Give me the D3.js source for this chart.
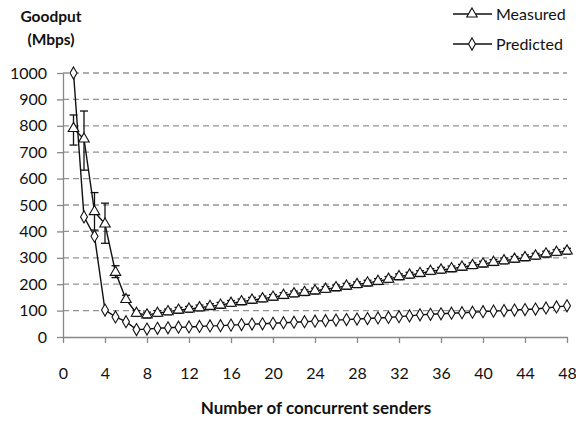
<!DOCTYPE html>
<html>
<head>
<meta charset="utf-8">
<script src="https://cdn.jsdelivr.net/npm/d3@7"></script>
<style>
  body { margin: 0; background: #fff; }
  text { font-family: Lato, "Open Sans", sans-serif; fill: #111; }
</style>
</head>
<body>
<div id="chart"></div>
<script>
var svgWidth = 576;
var svgHeight = 424;

// senders 1..48
var senders = d3.range(1, 49);

var measured = [790, 750, 475, 428, 245, 142, 90, 84, 90, 96, 102, 106, 111, 116, 121, 128,
  134, 140, 145, 151, 158, 164, 169, 175, 181, 187, 193, 199, 205, 211, 219, 229,
  235, 241, 249, 254, 259, 265, 271, 277, 283, 289, 295, 301, 307, 315, 321, 326];

var measuredHi = [841, 856, 547, 507, 270, 158, 100, 94, 100, 106, 112, 116, 121, 126, 131, 138,
  144, 150, 155, 161, 168, 174, 179, 185, 191, 197, 203, 209, 215, 221, 229, 239,
  245, 251, 259, 264, 269, 275, 281, 287, 293, 299, 305, 311, 317, 325, 331, 336];

var measuredLo = [727, 632, 405, 355, 225, 132, 78, 72, 78, 84, 90, 94, 99, 104, 109, 116,
  122, 128, 133, 139, 146, 152, 157, 163, 169, 175, 181, 187, 193, 199, 207, 217,
  223, 229, 237, 242, 247, 253, 259, 265, 271, 277, 283, 289, 295, 303, 309, 314];

var predicted = [1000, 455, 382, 102, 76, 58, 28, 30, 33, 35, 37, 38, 40, 42, 43, 45,
  47, 49, 50, 52, 54, 56, 58, 60, 62, 64, 66, 68, 70, 72, 74, 77,
  80, 84, 86, 88, 90, 92, 94, 96, 98, 100, 102, 104, 106, 110, 114, 118];

var xTicks = d3.range(0, 49, 4);
var yTicks = d3.range(0, 1001, 100);

var svg = d3.select("#chart")
  .append("svg")
  .attr("width", svgWidth)
  .attr("height", svgHeight);

var x = d3.scaleLinear().domain([0, 48]).range([63, 567]);
var y = d3.scaleLinear().domain([0, 1000]).range([337, 73]);

// gridlines
svg.append("g")
  .selectAll("line")
  .data(yTicks.filter(d => d > 0))
  .enter()
  .append("line")
  .attr("x1", x(0))
  .attr("x2", x(48))
  .attr("y1", d => y(d))
  .attr("y2", d => y(d))
  .attr("stroke", "#939393")
  .attr("stroke-width", 1.3)
  .attr("stroke-dasharray", "6,4");

// axes
var bottomAxis = d3.axisBottom(x).tickValues(xTicks).tickSize(6).tickSizeOuter(0).tickPadding(25);
var leftAxis = d3.axisLeft(y).tickValues(yTicks).tickFormat(d3.format("d"))
  .tickSize(6).tickSizeOuter(0).tickPadding(10);

var xAxis = svg.append("g")
  .attr("transform", `translate(0, ${y(0)})`)
  .call(bottomAxis);

var yAxis = svg.append("g")
  .attr("transform", `translate(${x(0)}, 0)`)
  .call(leftAxis);

[xAxis, yAxis].forEach(function(a) {
  a.select(".domain").attr("stroke", "#888").attr("stroke-width", 1.3);
  a.selectAll(".tick line").attr("stroke", "#888").attr("stroke-width", 1.3);
  a.selectAll(".tick text")
    .attr("font-family", "Lato, sans-serif")
    .attr("font-size", 16)
    .attr("fill", "#000");
});

// error bars
var errs = svg.append("g");
senders.forEach(function(s, i) {
  var cx = x(s);
  errs.append("line")
    .attr("x1", cx).attr("x2", cx)
    .attr("y1", y(measuredHi[i])).attr("y2", y(measuredLo[i]))
    .attr("stroke", "#111").attr("stroke-width", 1.3);
  [measuredHi[i], measuredLo[i]].forEach(function(v) {
    errs.append("line")
      .attr("x1", cx - 4).attr("x2", cx + 4)
      .attr("y1", y(v)).attr("y2", y(v))
      .attr("stroke", "#111").attr("stroke-width", 1.3);
  });
});

var line = d3.line().x(d => x(d[0])).y(d => y(d[1]));

svg.append("path")
  .datum(senders.map((s, i) => [s, measured[i]]))
  .attr("d", line)
  .attr("fill", "none")
  .attr("stroke", "#111")
  .attr("stroke-width", 1.4);

svg.append("path")
  .datum(senders.map((s, i) => [s, predicted[i]]))
  .attr("d", line)
  .attr("fill", "none")
  .attr("stroke", "#111")
  .attr("stroke-width", 1.4);

var triangle = d3.symbol().type(d3.symbolTriangle).size(48);
var diamond = d3.symbol().type(d3.symbolDiamond).size(42);

svg.append("g")
  .selectAll("path")
  .data(senders)
  .enter()
  .append("path")
  .attr("d", triangle)
  .attr("transform", (d, i) => `translate(${x(d)}, ${y(measured[i])})`)
  .attr("fill", "#fff")
  .attr("stroke", "#111")
  .attr("stroke-width", 1.1);

svg.append("g")
  .selectAll("path")
  .data(senders)
  .enter()
  .append("path")
  .attr("d", diamond)
  .attr("transform", (d, i) => `translate(${x(d)}, ${y(predicted[i])})`)
  .attr("fill", "#fff")
  .attr("stroke", "#111")
  .attr("stroke-width", 1.1);

// titles
svg.append("text")
  .attr("x", 51).attr("y", 22)
  .attr("text-anchor", "middle")
  .attr("font-size", 15.5)
  .attr("font-weight", "bold")
  .text("Goodput");

svg.append("text")
  .attr("x", 51).attr("y", 45)
  .attr("text-anchor", "middle")
  .attr("font-size", 15.5)
  .attr("font-weight", "bold")
  .text("(Mbps)");

svg.append("text")
  .attr("x", 316).attr("y", 414)
  .attr("text-anchor", "middle")
  .attr("font-size", 17)
  .attr("font-weight", "bold")
  .text("Number of concurrent senders");

// legend
var legend = [
  { label: "Measured", y: 14, sym: triangle },
  { label: "Predicted", y: 44, sym: diamond }
];
legend.forEach(function(l) {
  svg.append("line")
    .attr("x1", 453).attr("x2", 492)
    .attr("y1", l.y).attr("y2", l.y)
    .attr("stroke", "#111").attr("stroke-width", 1.3);
  svg.append("path")
    .attr("d", l.sym)
    .attr("transform", `translate(472, ${l.y})`)
    .attr("fill", "#fff")
    .attr("stroke", "#111")
    .attr("stroke-width", 1.1);
  svg.append("text")
    .attr("x", 496).attr("y", l.y + 6)
    .attr("font-size", 16)
    .attr("fill", "#000")
    .text(l.label);
});
</script>
</body>
</html>
